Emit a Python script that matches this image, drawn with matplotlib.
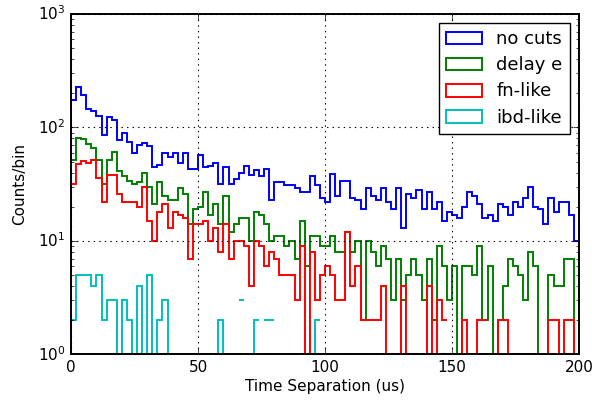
import numpy as np
import matplotlib
matplotlib.use("Agg")
import matplotlib.pyplot as plt
from matplotlib.patches import Patch

# Histogram binning: 100 bins of 2 us between 0 and 200 us
bin_lo, bin_hi, n_bins = 0.0, 200.0, 100

# Counts per bin for each selection
no_cuts = [175, 226, 193, 145, 141, 126, 86, 124, 116, 78,
           89, 75, 60, 70, 73, 68, 45, 47, 60, 55,
           60, 49, 60, 43, 43, 57, 45, 46, 49, 32,
           45, 32, 35, 40, 46, 38, 42, 37, 43, 23,
           33, 33, 31, 31, 29, 27, 27, 37, 31, 24,
           22, 39, 25, 34, 34, 24, 23, 19, 29, 25,
           23, 29, 22, 19, 29, 13, 26, 24, 28, 19,
           27, 19, 22, 15, 18, 17, 16, 20, 27, 25,
           21, 16, 17, 15, 21, 20, 17, 22, 20, 24,
           30, 20, 19, 14, 24, 18, 22, 22, 17, 10]

delay_e = [52, 80, 79, 72, 66, 52, 32, 52, 61, 41,
           37, 34, 32, 33, 40, 30, 21, 33, 25, 23,
           23, 29, 26, 14, 19, 20, 27, 17, 21, 14,
           25, 12, 14, 16, 16, 10, 18, 17, 14, 10,
           11, 11, 9, 10, 7, 15, 6, 11, 11, 9,
           9, 11, 8, 8, 12, 8, 10, 2, 10, 8,
           6, 9, 7, 3, 7, 3, 5, 7, 5, 3,
           7, 2, 9, 6, 3, 6, 1, 6, 6, 5,
           9, 2, 6, 1, 2, 4, 7, 6, 5, 3,
           8, 6, 1, 1, 5, 4, 4, 7, 7, 1]

fn_like = [32, 48, 51, 49, 52, 36, 22, 38, 38, 26,
           22, 22, 22, 20, 30, 15, 10, 18, 21, 13,
           18, 17, 16, 7, 14, 14, 15, 10, 13, 8,
           14, 7, 10, 10, 9, 4, 10, 9, 6, 8,
           7, 5, 5, 5, 3, 9, 1, 8, 3, 5,
           6, 5, 3, 3, 12, 4, 6, 2, 2, 2,
           2, 4, 1, 1, 1, 4, 1, 1, 1, 1,
           4, 1, 3, 2, 0, 0, 1, 2, 1, 1,
           2, 2, 0, 1, 2, 2, 1, 1, 1, 1,
           1, 1, 1, 1, 2, 2, 1, 2, 2, 1]

ibd_like = [2, 5, 5, 5, 4, 5, 2, 3, 3, 1,
            3, 2, 1, 4, 1, 5, 1, 2, 3, 1,
            1, 1, 1, 1, 1, 1, 1, 1, 1, 2,
            1, 1, 0, 3, 0, 1, 2, 0, 2, 2,
            0, 0, 0, 0, 0, 0, 0, 1, 2, 0,
            0, 0, 0, 0, 0, 0, 0, 0, 0, 0,
            0, 0, 0, 0, 0, 0, 0, 0, 0, 0,
            0, 0, 0, 0, 0, 0, 0, 0, 0, 0,
            0, 0, 0, 0, 0, 0, 0, 0, 0, 0,
            0, 0, 0, 0, 0, 0, 0, 0, 0, 0]

labels = ["no cuts", "delay e", "fn-like", "ibd-like"]
colors = ["#0000ff", "#008000", "#ff0000", "#00bfbf"]

x_ticks = [0, 50, 100, 150, 200]

plt.style.use("classic")
plt.rcParams["font.family"] = ["DejaVu Sans"]
plt.rcParams["mathtext.fontset"] = "dejavusans"

edges = np.linspace(bin_lo, bin_hi, n_bins + 1)

fig = plt.figure(figsize=(5.92, 4.0), dpi=100, facecolor="white")
ax = fig.add_axes([0.12, 0.114, 0.858, 0.851])
ax.set_facecolor("white")
# empty bins are masked on the log axis, so the outline breaks there
ax.set_yscale("log", nonpositive="mask")

series = [no_cuts, delay_e, fn_like, ibd_like]
handles = []
for vals, col, lab in zip(series, colors, labels):
    ax.stairs(np.asarray(vals, dtype=float), edges, baseline=0.1,
              fill=False, edgecolor=col, linewidth=1.4)
    handles.append(Patch(facecolor="none", edgecolor=col, linewidth=1.4, label=lab))

for sp in ax.spines.values():
    sp.set_linewidth(1.4)

ax.set_xlim(bin_lo, bin_hi)
ax.set_ylim(1, 1000)
ax.set_xticks(x_ticks)
ax.tick_params(axis="both", which="major", labelsize=11, direction="in",
               top=True, right=True, length=4)
ax.tick_params(axis="both", which="minor", direction="in", top=True, right=True, length=2)
ax.grid(True, which="major", linestyle=":", color="k", linewidth=0.8)

ax.set_xlabel("Time Separation (us)", fontsize=11, labelpad=3)
ax.set_ylabel("Counts/bin", fontsize=11, labelpad=8)

leg = ax.legend(handles=handles, loc="upper right", fontsize=13,
                handlelength=2.0, handleheight=0.7, labelspacing=0.45,
                handletextpad=0.8, borderpad=0.4, borderaxespad=0.5,
                fancybox=False, framealpha=1.0)
leg.get_frame().set_edgecolor("black")
leg.get_frame().set_linewidth(1.0)

fig.savefig("out.png", dpi=100, facecolor="white")
